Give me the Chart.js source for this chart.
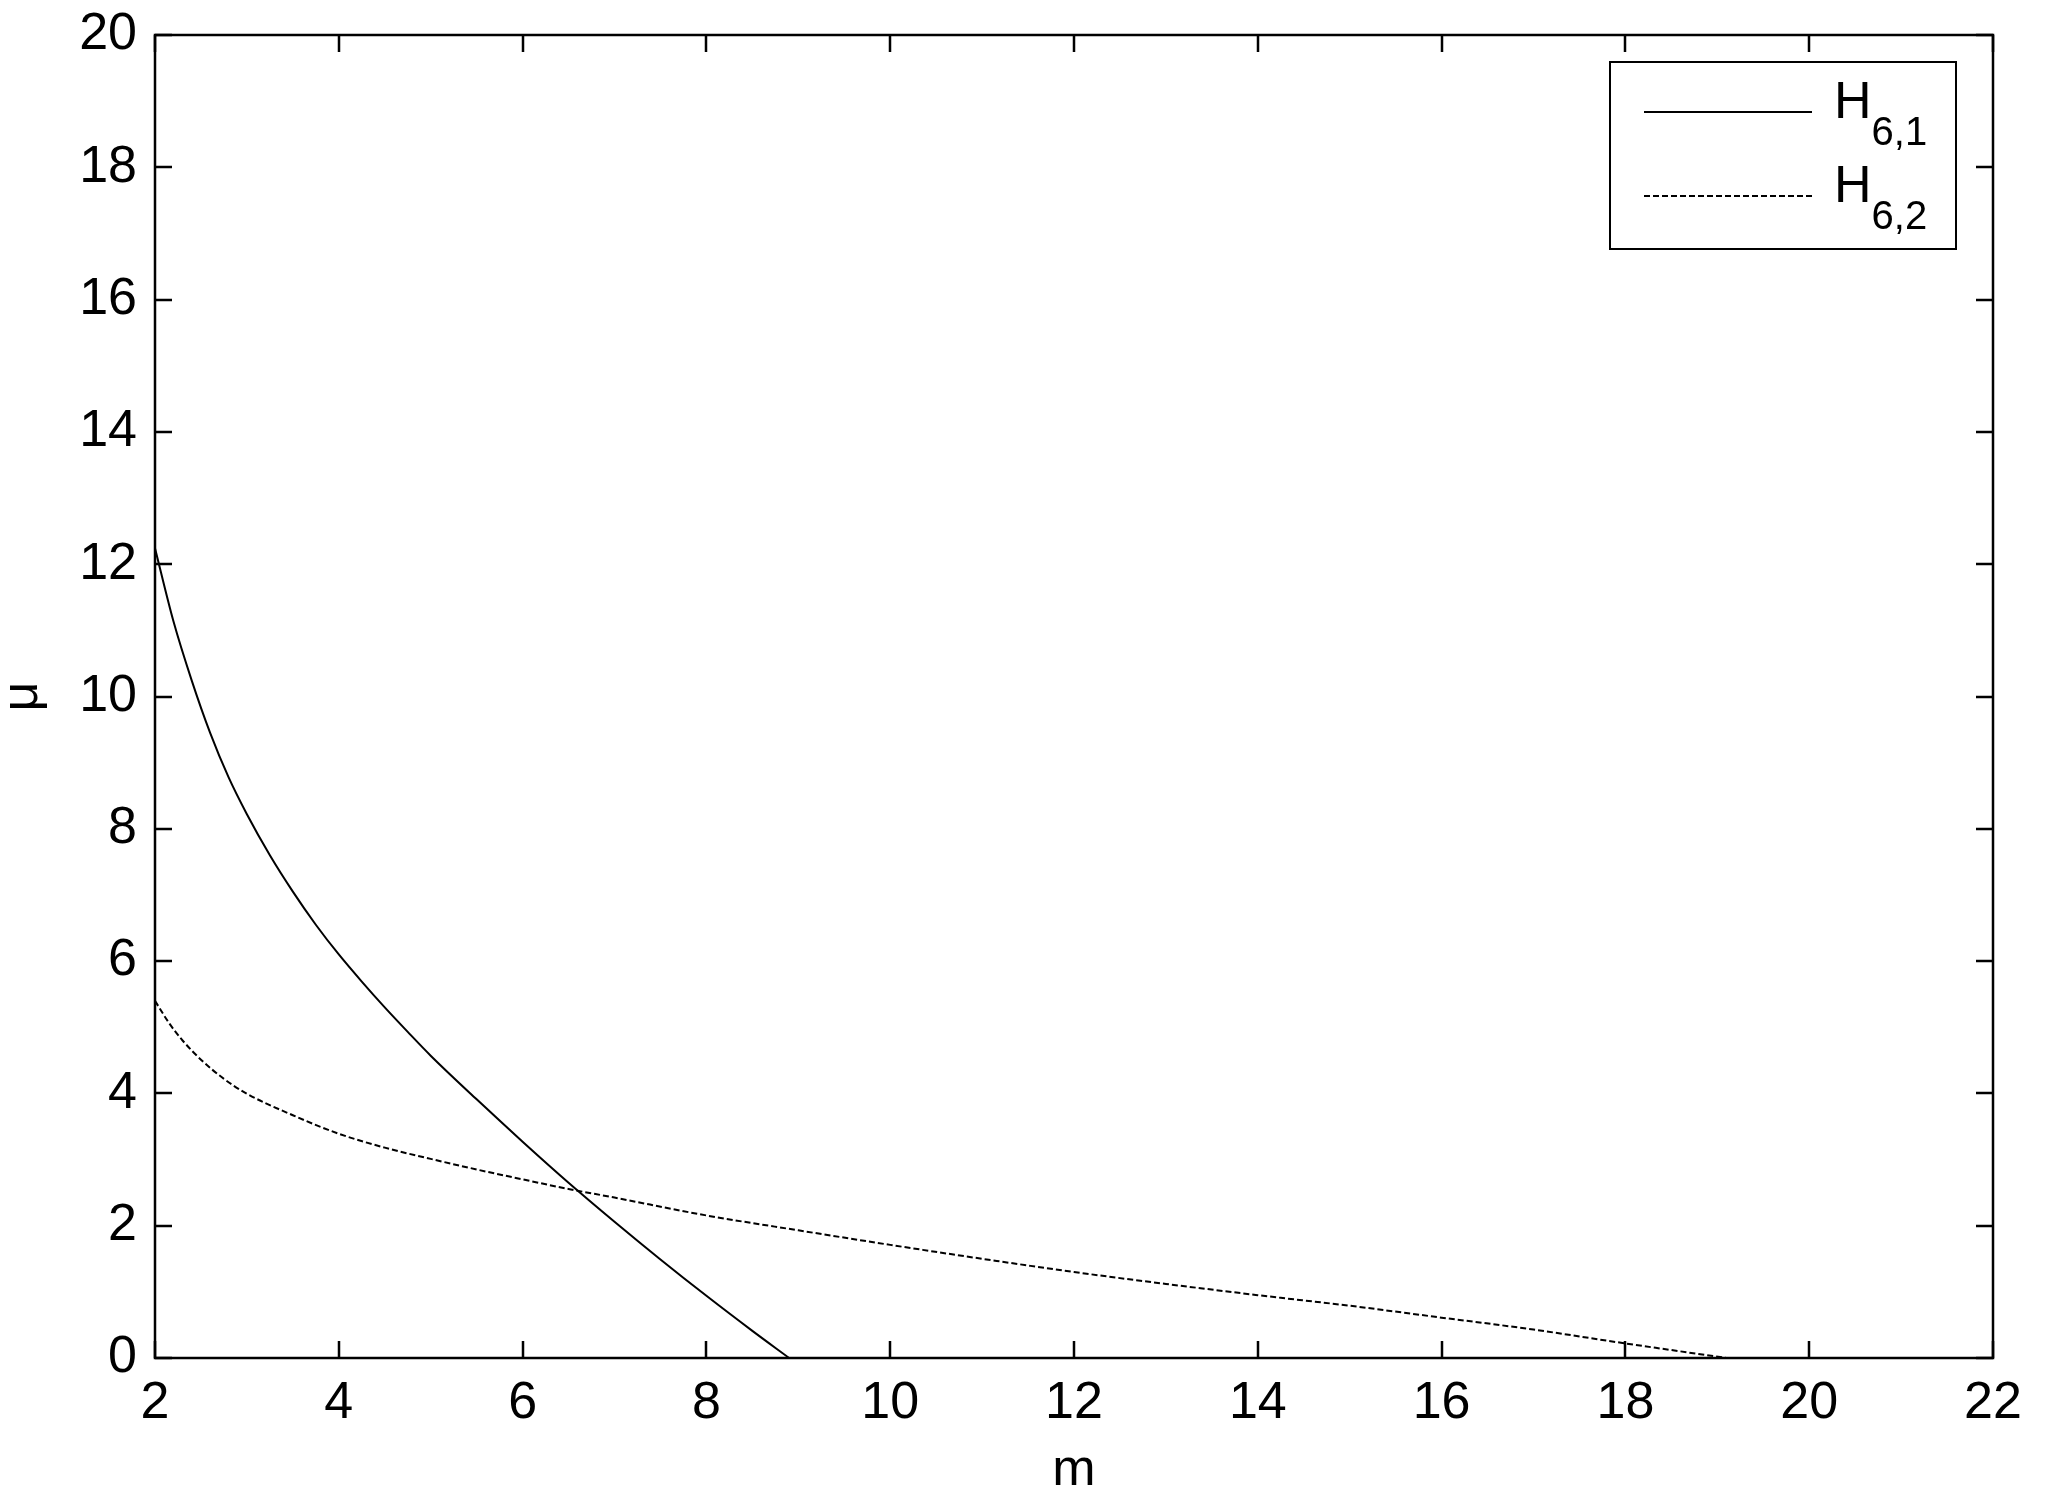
<!DOCTYPE html>
<html>
<head>
<meta charset="utf-8">
<script src="https://cdn.jsdelivr.net/npm/chart.js@4/dist/chart.umd.min.js"></script>
<style>
  html, body { margin: 0; padding: 0; background: #fff; }
  canvas { display: block; }
</style>
</head>
<body>
<canvas id="muChart" width="2047" height="1502"></canvas>
<script>
// datos
const mSolid  = [2.0, 2.2, 2.4, 2.6, 2.8, 3.0, 3.25, 3.5, 3.75, 4.0, 4.25, 4.5, 4.75, 5.0, 5.5, 6.0, 6.5, 7.0, 7.5, 8.0, 8.5, 8.9];
const muSolid = [12.24, 11.14, 10.24, 9.45, 8.78, 8.22, 7.6, 7.05, 6.55, 6.1, 5.69, 5.3, 4.93, 4.57, 3.91, 3.27, 2.65, 2.06, 1.49, 0.94, 0.41, 0];

const mDashed  = [2.0, 2.15, 2.3, 2.5, 2.75, 3.0, 3.5, 4.0, 4.5, 5.0, 5.5, 6.0, 6.5, 7.0, 8.0, 9.0, 10.0, 11.0, 12.0, 13.0, 14.0, 15.0, 16.0, 17.0, 18.0, 18.5, 19.1];
const muDashed = [5.4, 5.07, 4.8, 4.51, 4.22, 3.995, 3.67, 3.39, 3.18, 3.01, 2.85, 2.7, 2.555, 2.425, 2.155, 1.93, 1.71, 1.5, 1.3, 1.12, 0.95, 0.79, 0.61, 0.43, 0.22, 0.12, 0];

const seriesLabels = ['H6,1', 'H6,2'];
const seriesSub = [['H', '6,1'], ['H', '6,2']];

const xTicks = [2, 4, 6, 8, 10, 12, 14, 16, 18, 20, 22];
const yTicks = [0, 2, 4, 6, 8, 10, 12, 14, 16, 18, 20];

const FONT = '"Liberation Sans", Arial, sans-serif';

function toPoints(xs, ys) {
    return xs.map((x, i) => ({ x: x, y: ys[i] }));
}

// caja del grafico con marcas hacia adentro (estilo matlab)
const boxTicks = {
    id: 'boxTicks',
    afterDatasetsDraw(chart) {
        const { ctx, chartArea: a, scales } = chart;
        const len = 17;
        ctx.save();
        ctx.strokeStyle = '#000';
        ctx.lineWidth = 2.5;
        ctx.strokeRect(a.left, a.top, a.right - a.left, a.bottom - a.top);
        ctx.beginPath();
        xTicks.forEach(v => {
            const px = Math.round(scales.x.getPixelForValue(v));
            ctx.moveTo(px, a.bottom); ctx.lineTo(px, a.bottom - len);
            ctx.moveTo(px, a.top); ctx.lineTo(px, a.top + len);
        });
        yTicks.forEach(v => {
            const py = Math.round(scales.y.getPixelForValue(v));
            ctx.moveTo(a.left, py); ctx.lineTo(a.left + len, py);
            ctx.moveTo(a.right, py); ctx.lineTo(a.right - len, py);
        });
        ctx.stroke();
        ctx.restore();
    }
};

// leyenda con subindices
const subLegend = {
    id: 'subLegend',
    afterDraw(chart) {
        const { ctx, chartArea: a } = chart;
        const bx = a.right - 383, by = a.top + 27, bw = 346, bh = 187;
        ctx.save();
        ctx.fillStyle = '#fff';
        ctx.fillRect(bx, by, bw, bh);
        ctx.strokeStyle = '#000';
        ctx.lineWidth = 2;
        ctx.strokeRect(bx, by, bw, bh);
        chart.data.datasets.forEach((ds, i) => {
            const rowY = by + 50 + i * 84;
            ctx.beginPath();
            ctx.strokeStyle = ds.borderColor;
            ctx.lineWidth = ds.borderWidth;
            ctx.setLineDash(ds.borderDash || []);
            ctx.moveTo(bx + 34, rowY);
            ctx.lineTo(bx + 202, rowY);
            ctx.stroke();
            ctx.setLineDash([]);
            ctx.fillStyle = '#000';
            ctx.textBaseline = 'alphabetic';
            ctx.textAlign = 'left';
            ctx.font = '52px ' + FONT;
            const base = rowY + 6;
            ctx.fillText(seriesSub[i][0], bx + 224, base);
            const w = ctx.measureText(seriesSub[i][0]).width;
            ctx.font = '40px ' + FONT;
            ctx.fillText(seriesSub[i][1], bx + 224 + w, base + 27);
        });
        ctx.restore();
    }
};

const ctx = document.getElementById('muChart').getContext('2d');
const muChart = new Chart(ctx, {
    type: 'line',
    data: {
        datasets: [{
            label: seriesLabels[0],
            data: toPoints(mSolid, muSolid),
            borderColor: '#000',
            borderWidth: 2,
            pointRadius: 0,
            cubicInterpolationMode: 'monotone',
            fill: false
        }, {
            label: seriesLabels[1],
            data: toPoints(mDashed, muDashed),
            borderColor: '#000',
            borderWidth: 2,
            borderDash: [6, 3],
            pointRadius: 0,
            cubicInterpolationMode: 'monotone',
            fill: false
        }]
    },
    options: {
        responsive: false,
        devicePixelRatio: 1,
        animation: false,
        layout: { padding: { top: 35, right: 54, left: 0, bottom: 0 } },
        plugins: {
            legend: { display: false },
            tooltip: { enabled: false }
        },
        scales: {
            x: {
                type: 'linear',
                min: 2,
                max: 22,
                afterBuildTicks: s => { s.ticks = xTicks.map(v => ({ value: v })); },
                afterFit: s => { s.height = 144; s.paddingLeft = 0; s.paddingRight = 0; },
                grid: { display: false, drawTicks: false },
                border: { display: false },
                ticks: {
                    color: '#000',
                    font: { family: FONT, size: 52 },
                    padding: 14,
                    maxRotation: 0
                },
                title: {
                    display: true,
                    text: 'm',
                    color: '#000',
                    font: { family: FONT, size: 52 },
                    padding: { top: 7, bottom: 0 }
                }
            },
            y: {
                type: 'linear',
                min: 0,
                max: 20,
                afterBuildTicks: s => { s.ticks = yTicks.map(v => ({ value: v })); },
                afterFit: s => { s.width = 155; s.paddingTop = 0; s.paddingBottom = 0; },
                grid: { display: false, drawTicks: false },
                border: { display: false },
                ticks: {
                    color: '#000',
                    font: { family: FONT, size: 52 },
                    padding: 18
                },
                title: {
                    display: true,
                    text: 'μ',
                    color: '#000',
                    font: { family: FONT, size: 52 },
                    padding: { top: -9, bottom: 0 }
                }
            }
        }
    },
    plugins: [boxTicks, subLegend]
});
</script>
</body>
</html>
